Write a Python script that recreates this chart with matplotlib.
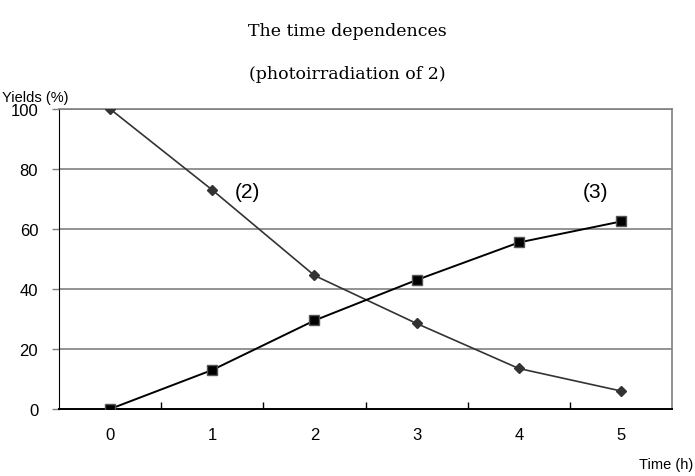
import matplotlib
matplotlib.use("Agg")
import matplotlib.pyplot as plt

# data
hours = [0, 1, 2, 3, 4, 5]
yield_2 = [100, 73, 44.5, 28.5, 13.5, 6]
yield_3 = [0, 13, 29.5, 43, 55.5, 62.5]
y_ticks = [0, 20, 40, 60, 80, 100]

fig = plt.figure(figsize=(6.95, 4.77), dpi=100)
ax = fig.add_axes([0.0849, 0.1405, 0.8821, 0.6289])

for y in y_ticks[1:]:
    ax.axhline(y, color="#808080", linewidth=1.2, zorder=1)

ax.plot(hours, yield_2, color="#333333", linewidth=1.2, marker="D",
        markersize=5.5, markerfacecolor="#333333", markeredgecolor="#333333", zorder=3)
ax.plot(hours, yield_3, color="black", linewidth=1.4, marker="s",
        markersize=7.5, markerfacecolor="black", markeredgecolor="#555555", zorder=3)

ax.set_xlim(-0.5, 5.5)
ax.set_ylim(0, 100)
ax.set_yticks(y_ticks)
ax.set_xticks(hours)
ax.set_xticks([0.5, 1.5, 2.5, 3.5, 4.5], minor=True)

sans = ["Liberation Sans", "DejaVu Sans"]
ax.set_yticklabels([str(v) for v in y_ticks], fontsize=12, family=sans)
ax.set_xticklabels([str(v) for v in hours], fontsize=12, family=sans)
ax.tick_params(axis="x", which="major", length=0, pad=13)
ax.tick_params(axis="x", which="minor", direction="in", length=5, width=1, color="black")
ax.tick_params(axis="y", direction="out", length=5, width=1, color="#808080", pad=10)

for side in ["top", "right"]:
    ax.spines[side].set_color("#808080")
    ax.spines[side].set_linewidth(1.2)
ax.spines["left"].set_color("black")
ax.spines["bottom"].set_color("black")
ax.spines["bottom"].set_linewidth(1.4)

ax.text(1.34, 72.5, "(2)", fontsize=15, family=sans, ha="center", va="center")
ax.text(4.75, 72.5, "(3)", fontsize=15, family=sans, ha="center", va="center")

fig.text(0.5, 0.933, "The time dependences", fontsize=12.5, family="DejaVu Serif",
         ha="center", va="center")
fig.text(0.5, 0.843, "(photoirradiation of 2)", fontsize=12.5, family="DejaVu Serif",
         ha="center", va="center")
fig.text(0.003, 0.795, "Yields (%)", fontsize=10.5, family=sans, ha="left", va="center")
fig.text(0.997, 0.026, "Time (h)", fontsize=10.5, family=sans, ha="right", va="center")

fig.savefig("out.png", dpi=100)
